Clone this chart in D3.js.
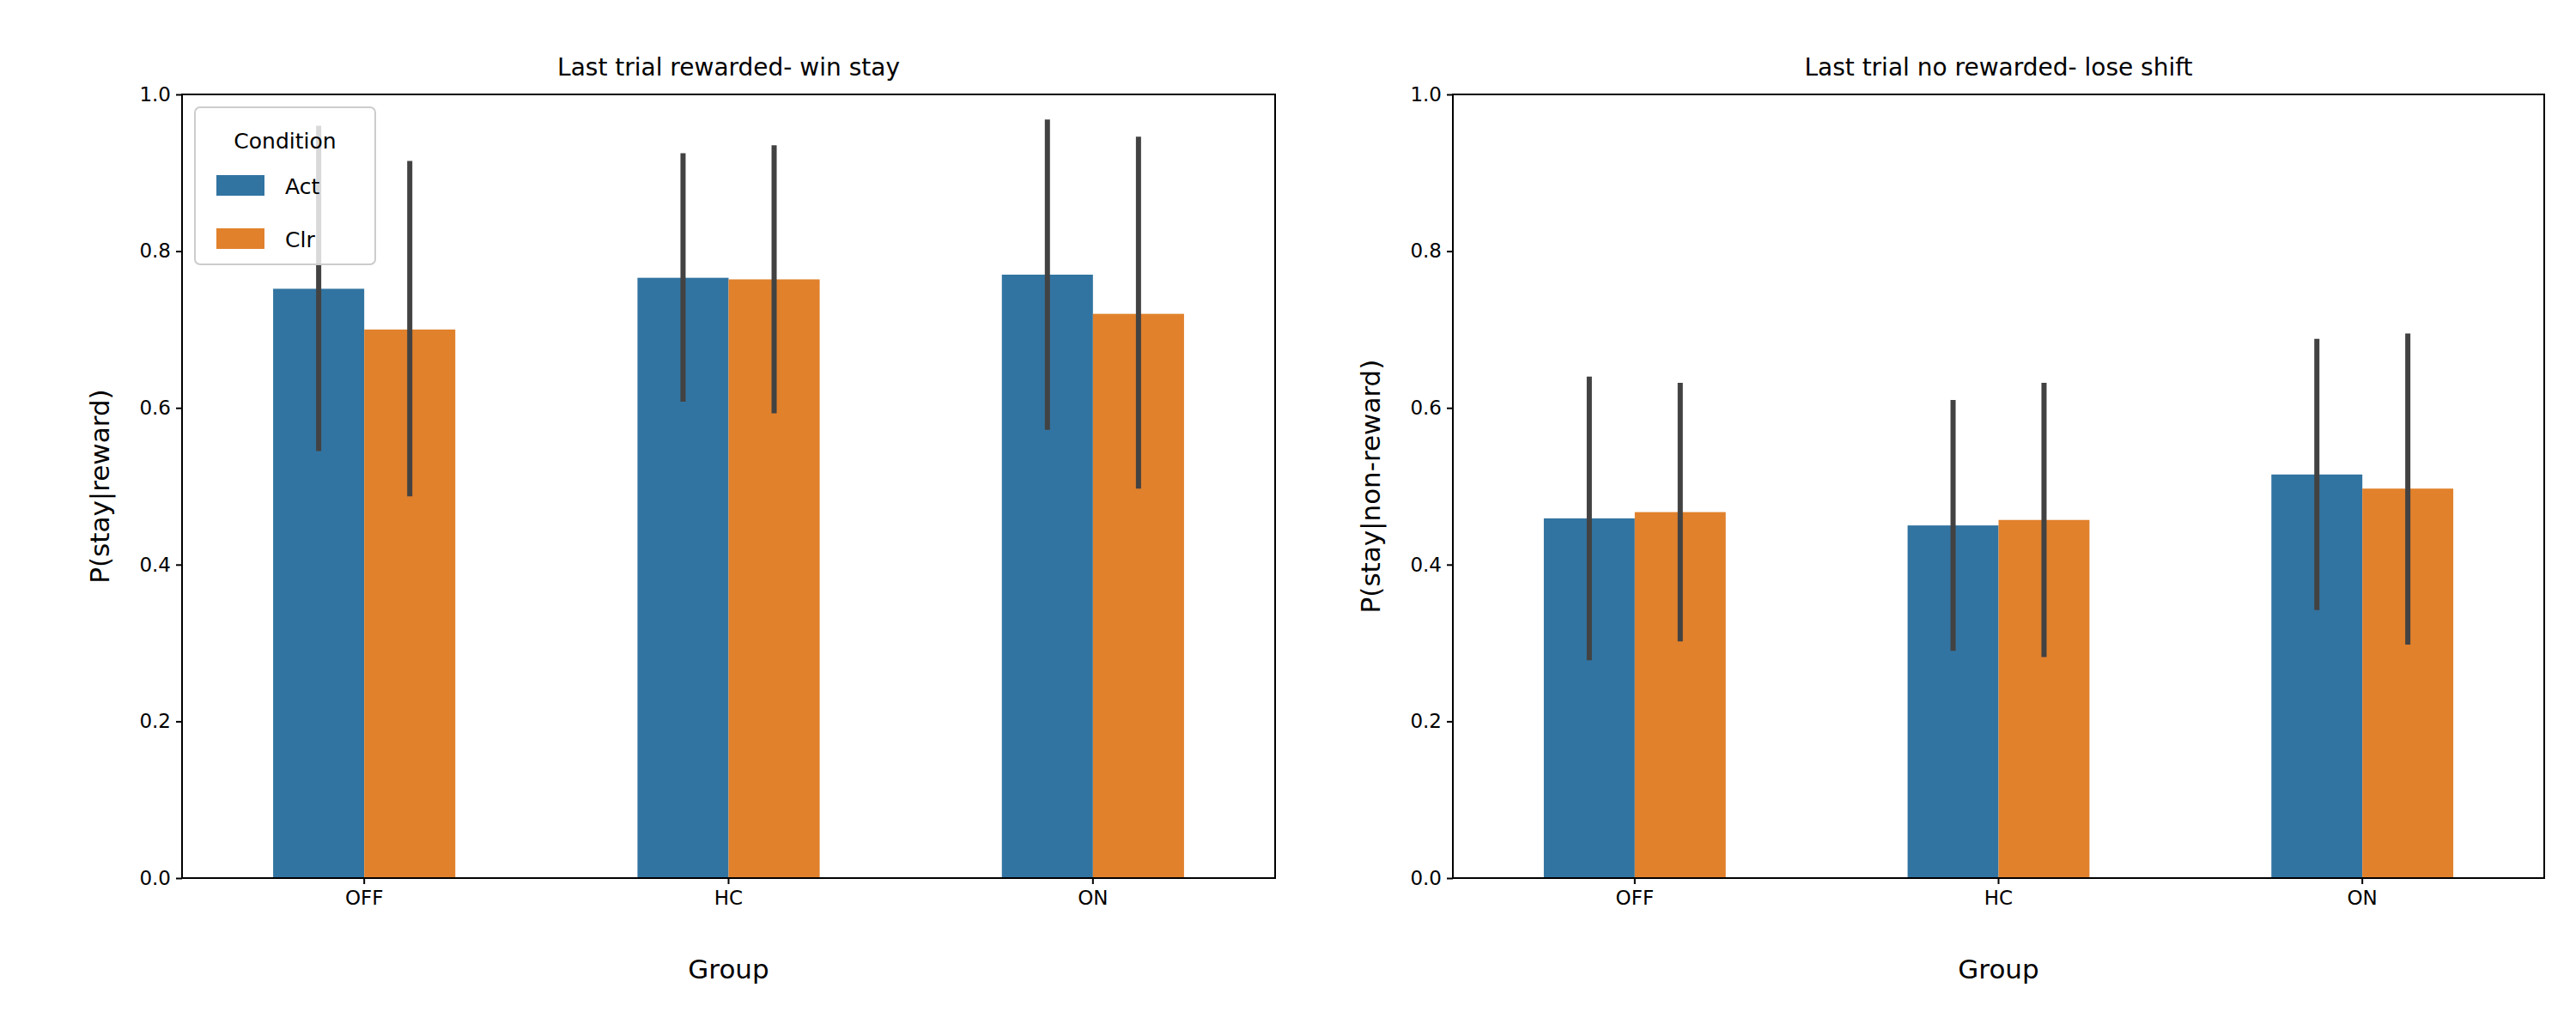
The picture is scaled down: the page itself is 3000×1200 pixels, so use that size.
<!DOCTYPE html>
<html><head><meta charset="utf-8">
<script src="https://cdn.jsdelivr.net/npm/d3@7"></script>
<style>body{margin:0;background:#fff}text{font-family:"DejaVu Sans",sans-serif}</style>
</head><body><svg id="c" width="3000" height="1200"></svg>
<script>
const groups = ["OFF","HC","ON"];
const conditions = ["Act","Clr"];
const colors = ["#3274a1","#e1812c"];
const yTicks = [0,0.2,0.4,0.6,0.8,1.0];
// panel 1: win stay
const winMean = [[0.752,0.700],[0.766,0.764],[0.770,0.720]];
const winLo   = [[0.545,0.487],[0.608,0.593],[0.572,0.497]];
const winHi   = [[0.960,0.915],[0.925,0.935],[0.968,0.946]];
// panel 2: lose shift
const loseMean = [[0.459,0.467],[0.450,0.457],[0.515,0.497]];
const loseLo   = [[0.278,0.302],[0.290,0.282],[0.342,0.298]];
const loseHi   = [[0.640,0.632],[0.610,0.632],[0.688,0.695]];

const svg = d3.select("#c");
const pTop=110, pBottom=1023;
function panel(x0,x1,title,ylab,mean,lo,hi,legend){
  const g = svg.append("g");
  const x = d3.scaleBand().domain(groups).range([x0,x1]).paddingInner(0).paddingOuter(0);
  const y = d3.scaleLinear().domain([0,1]).range([pBottom,pTop]);
  const bw = x.bandwidth()*0.5/2;
  groups.forEach((gr,i)=>{
    conditions.forEach((c,j)=>{
      const cx = x(gr)+x.bandwidth()/2 + (j-1)*bw;
      g.append("rect").attr("x",cx).attr("width",bw).attr("y",y(mean[i][j])).attr("height",pBottom-y(mean[i][j])).attr("fill",colors[j]);
    });
  });
  groups.forEach((gr,i)=>{
    conditions.forEach((c,j)=>{
      const cx = x(gr)+x.bandwidth()/2 + (j-0.5)*bw;
      g.append("line").attr("x1",cx).attr("x2",cx).attr("y1",y(lo[i][j])).attr("y2",y(hi[i][j])).attr("stroke","#424242").attr("stroke-width",6);
    });
  });
  const ya = g.append("g").attr("transform",`translate(${x0},0)`).call(d3.axisLeft(y).tickValues(yTicks).tickFormat(d3.format(".1f")).tickSize(7).tickPadding(6));
  const xa = g.append("g").attr("transform",`translate(0,${pBottom})`).call(d3.axisBottom(x).tickSize(7).tickPadding(8));
  [ya,xa].forEach(a=>{a.select(".domain").remove();a.selectAll("text").attr("font-size",23).attr("fill","#000").attr("font-family","DejaVu Sans");a.selectAll("line").attr("stroke","#000").attr("stroke-width",2);});
  g.append("rect").attr("x",x0).attr("y",pTop).attr("width",x1-x0).attr("height",pBottom-pTop).attr("fill","none").attr("stroke","#000").attr("stroke-width",2);
  g.append("text").attr("x",(x0+x1)/2).attr("y",pTop-22).attr("text-anchor","middle").attr("font-size",28).text(title);
  g.append("text").attr("x",(x0+x1)/2).attr("y",pBottom+117).attr("text-anchor","middle").attr("font-size",31).text("Group");
  g.append("text").attr("transform",`translate(${x0-85},${(pTop+pBottom)/2}) rotate(-90)`).attr("text-anchor","middle").attr("font-size",31).text(ylab);
  if(legend){
    const lg=g.append("g");
    lg.append("rect").attr("x",x0+15).attr("y",pTop+15).attr("width",210).attr("height",183).attr("rx",6).attr("fill","#fff").attr("fill-opacity",0.8).attr("stroke","#ccc").attr("stroke-width",2);
    lg.append("text").attr("x",x0+120).attr("y",pTop+63).attr("text-anchor","middle").attr("font-size",25).text("Condition");
    conditions.forEach((c,j)=>{
      lg.append("rect").attr("x",x0+40).attr("y",pTop+94+j*62).attr("width",56).attr("height",24).attr("fill",colors[j]);
      lg.append("text").attr("x",x0+120).attr("y",pTop+116+j*62).attr("font-size",25).text(c);
    });
  }
}
panel(212,1485,"Last trial rewarded- win stay","P(stay|reward)",winMean,winLo,winHi,true);
panel(1692,2963,"Last trial no rewarded- lose shift","P(stay|non-reward)",loseMean,loseLo,loseHi,false);
</script></body></html>
